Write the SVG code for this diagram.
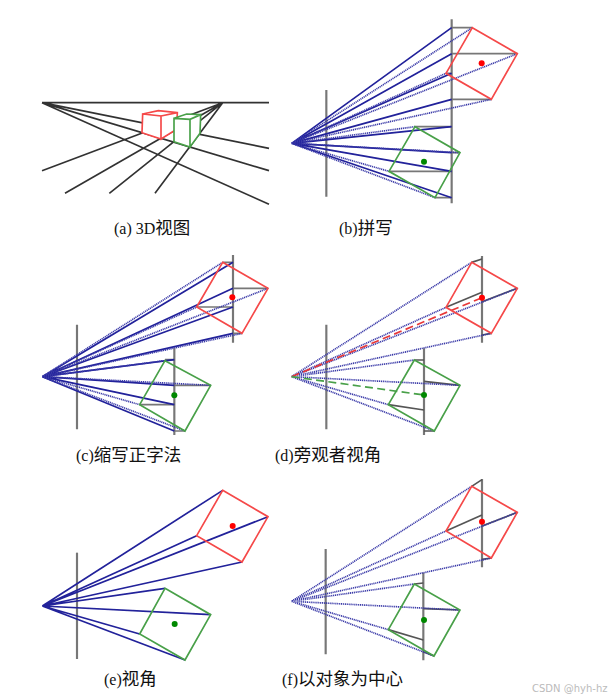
<svg xmlns="http://www.w3.org/2000/svg" width="611" height="699" viewBox="0 0 611 699">
<style>
text{font-family:"Liberation Serif","Noto Sans CJK SC",serif;font-size:16px;fill:#111}
.zh{font-size:17.5px}
.wm{font-family:"DejaVu Sans",sans-serif;font-size:10px;fill:#bbb}
path{fill:none}
.plane{stroke:#777;stroke-width:6.5}
.proj{stroke:#777;stroke-width:5}
.pd{stroke:#555;stroke-width:5}
.solid{stroke:#20209a;stroke-width:5}
.dot{stroke:#3a3aa8;stroke-width:5;stroke-dasharray:3.5 2.2}
.ln{stroke:#333;stroke-width:5}
.red{stroke:#f54848;stroke-width:5}
.green{stroke:#48a048;stroke-width:5}
.rc{fill:#f00}
.gc{fill:#080}
.rd{stroke:#e83838;stroke-width:5;stroke-dasharray:24 13}
.gd{stroke:#48a048;stroke-width:5;stroke-dasharray:24 13}
</style>
<defs><filter id="soft" x="-5%" y="-5%" width="110%" height="110%"><feGaussianBlur stdDeviation="1"/></filter></defs>

<g id="panel-a" transform="translate(30 90) scale(.33333)" filter="url(#soft)">
<g id="a-lines">
<path class="ln" d="M36 38H717M36 38L717 175M36 38L717 242M36 38L717 343M578 38L36 242M578 38L105 310M578 38L238 310M578 38L375 310"/>
</g>
<g id="a-red-cube"><path class="red" style="fill:#fff" d="M338 72L385 62L442 68L393 78ZM393 78L442 68L440 118L393 147ZM338 72L393 78L393 147L336 128Z"/></g>
<g id="a-green-cube"><path class="green" style="fill:#fff" d="M432 85L470 72L512 74L480 88ZM480 88L512 74L510 130L480 171ZM432 85L480 88L480 171L432 155Z"/></g>
</g>

<g id="panel-b" transform="translate(285 10) scale(.33333)" filter="url(#soft)">
<g id="b-connectors">
<path class="plane" d="M124 240V560M500 28V580"/>
<path class="proj" d="M500 53H562M500 131H697M483 190H500M500 268H619M390 350H500M500 428H525M312 484H500M450 563H500"/>
<path class="solid" d="M20 400L500 53M20 400L500 131M20 400L500 190M20 400L500 268M20 400L500 350M20 400L500 428M20 400L500 484M20 400L500 563"/>
<path class="dot" d="M20 400L562 53M20 400L697 131M20 400L483 190M20 400L619 268M20 400L390 350M20 400L525 428M20 400L312 484M20 400L450 563"/>
</g>
<g id="b-red"><path class="red" d="M562 53L697 131L619 268L483 190Z"/><circle class="rc" cx="590" cy="160" r="9"/></g>
<g id="b-green"><path class="green" d="M390 350L525 428L450 563L312 484Z"/><circle class="gc" cx="417" cy="455" r="9"/></g>
</g>

<g id="panel-c" transform="translate(35 250) scale(.33333)" filter="url(#soft)">
<g id="c-connectors">
<path class="plane" d="M126 224V538M594 15V278M418 295V555"/>
<path class="proj" d="M563 37H594M594 115H699M485 171H594M594 250H621M390 329H418M418 406H527M314 464H418M418 543H450"/>
<path class="solid" d="M22 380L594 37M22 380L594 115M22 380L594 171M22 380L594 250M22 380L418 329M22 380L418 406M22 380L418 464M22 380L418 543"/>
<path class="dot" d="M22 380L563 37M22 380L699 115M22 380L485 171M22 380L621 250M22 380L390 332M22 380L527 406M22 380L314 464M22 380L450 543"/>
</g>
<g id="c-red"><path class="red" d="M563 37L699 115L621 250L485 171Z"/><circle class="rc" cx="592" cy="142" r="9"/></g>
<g id="c-green"><path class="green" d="M390 332L527 406L450 543L314 464Z"/><circle class="gc" cx="418" cy="436" r="9"/></g>
</g>

<g id="panel-d" transform="translate(285 250) scale(.33333)" filter="url(#soft)">
<g id="d-connectors">
<path class="plane" d="M124 224V538M591 18V278M417 295V555"/>
<path class="pd" d="M591 27L560 37M591 127L483 172M591 155L697 115M591 255L619 250M417 330H388M417 394L525 406M417 480L310 464M417 543H448"/>
<path class="dot" d="M20 380L560 37M20 380L697 115M20 380L483 172M20 380L619 250M20 380L388 330M20 380L525 406M20 380L310 464M20 380L448 543"/>
<path class="rd" d="M20 380L591 143"/>
<path class="gd" d="M20 380L417 435"/>
</g>
<g id="d-red"><path class="red" d="M560 37L697 115L619 250L483 172Z"/><circle class="rc" cx="591" cy="143" r="9"/></g>
<g id="d-green"><path class="green" d="M388 330L525 406L448 543L310 464Z"/><circle class="gc" cx="417" cy="435" r="9"/></g>
</g>

<g id="panel-e" transform="translate(35 480) scale(.33333)" filter="url(#soft)">
<g id="e-connectors">
<path class="plane" d="M126 218V537"/>
<path class="solid" d="M22 378L563 31M22 378L699 110M22 378L485 167M22 378L621 246M22 378L390 325M22 378L527 404M22 378L314 462M22 378L450 540"/>
</g>
<g id="e-red"><path class="red" d="M563 31L699 110L621 246L485 167Z"/><circle class="rc" cx="593" cy="138" r="9"/></g>
<g id="e-green"><path class="green" d="M390 325L527 404L450 540L314 462Z"/><circle class="gc" cx="419" cy="432" r="9"/></g>
</g>

<g id="panel-f" transform="translate(285 475) scale(.33333)" filter="url(#soft)">
<g id="f-connectors">
<path class="plane" d="M122 222V538M591 12V277M415 293V556"/>
<path class="pd" d="M591 14L560 34M591 120L483 168M591 153L697 112M591 253L619 249M415 324L388 327M415 401L525 405M415 495L310 464M415 530L447 543"/>
<path class="dot" d="M20 379L560 34M20 379L697 112M20 379L483 168M20 379L619 249M20 379L388 327M20 379L525 405M20 379L310 464M20 379L447 543"/>
</g>
<g id="f-red"><path class="red" d="M560 34L697 112L619 249L483 168Z"/><circle class="rc" cx="591" cy="140" r="9"/></g>
<g id="f-green"><path class="green" d="M388 327L525 405L447 543L310 464Z"/><circle class="gc" cx="417" cy="435" r="9"/></g>
</g>

<g id="labels">
<text x="114" y="234">(a) 3D<tspan class="zh">视图</tspan></text>
<text x="339" y="234">(b)<tspan class="zh">拼写</tspan></text>
<text x="76" y="461">(c)<tspan class="zh">缩写正字法</tspan></text>
<text x="275" y="461">(d)<tspan class="zh">旁观者视角</tspan></text>
<text x="104" y="685">(e)<tspan class="zh">视角</tspan></text>
<text x="282" y="685">(f)<tspan class="zh">以对象为中心</tspan></text>
<text class="wm" x="532" y="692">CSDN @hyh-hz</text>
</g>
</svg>
